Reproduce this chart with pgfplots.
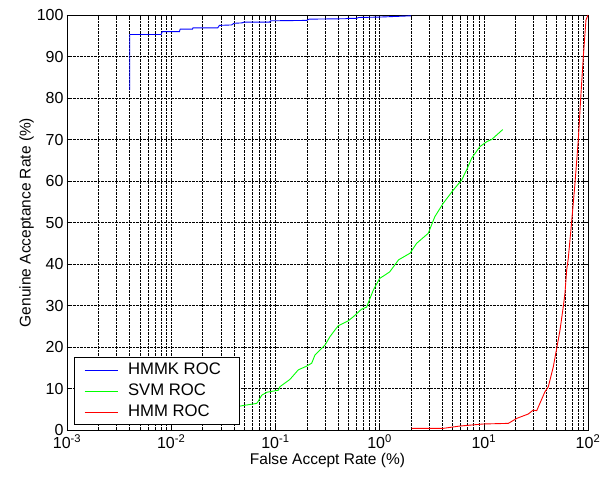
\documentclass[border=0pt]{standalone}
\usepackage{pgfplots}
\pgfplotsset{compat=1.18}
\usepackage{fontspec}
\setmainfont{Liberation Sans}

\begin{document}
\begin{tikzpicture}
\begin{axis}[
    anchor=south west, at={(0,0)},
    scale only axis, width=521pt, height=415pt,
    xmode=log, log basis x=10,
    xmin=0.001, xmax=100, ymin=0, ymax=100,
    xtick={0.001,0.01,0.1,1,10,100},
    xticklabels={10\textsuperscript{-3},10\textsuperscript{-2},10\textsuperscript{-1},10\textsuperscript{0},10\textsuperscript{1},10\textsuperscript{2}},
    minor xtick={0.002,0.003,0.004,0.005,0.006,0.007,0.008,0.009,
                 0.02,0.03,0.04,0.05,0.06,0.07,0.08,0.09,
                 0.2,0.3,0.4,0.5,0.6,0.7,0.8,0.9,
                 2,3,4,5,6,7,8,9,
                 20,30,40,50,60,70,80,90},
    ytick={0,10,...,100},
    /pgf/number format/assume math mode=true,
    ticklabel style={font=\fontsize{16}{18}\selectfont},
    xticklabel style={yshift=-1pt},
    label style={font=\fontsize{15.5}{18}\selectfont},
    xlabel={False Accept Rate (\%)},
    ylabel={Genuine Acceptance Rate (\%)},
    xlabel style={yshift=2pt},
    ylabel style={yshift=-4pt},
    tick align=inside,
    major tick length=5pt, minor tick length=3pt,
    tick style={black, line width=0.5pt},
    grid=both,
    major grid style={black, densely dotted, line width=0.5pt},
    minor grid style={black, densely dotted, line width=0.5pt},
    axis line style={line width=0.8pt},
    legend cell align=left,
    legend style={at={(0.013,0.012)}, anchor=south west, draw=black, line width=0.8pt,
        font=\fontsize{16.7}{18}\selectfont, fill=white,
        inner xsep=1pt, inner ysep=2pt, row sep=0pt,
        nodes={text height=11.5pt, text depth=3.5pt, inner ysep=3pt}},
    legend image code/.code={\path (0pt,0pt) (50pt,0pt);
        \draw[#1, line width=1.2pt] (9pt,0pt) -- (42pt,0pt);},
]
\addplot[color=blue, line width=0.9pt] coordinates {
(0.004,81.9) (0.004,95.3) (0.008,95.3) (0.0082,96.0) (0.012,96.0) (0.0122,96.6)
(0.016,96.6) (0.0162,96.9) (0.028,96.9) (0.029,97.5) (0.038,97.6) (0.04,98.0)
(0.048,98.1) (0.05,98.3) (0.088,98.3) (0.09,98.6) (0.2,98.7) (0.21,99.0)
(0.47,99.1) (0.5,99.2) (0.6,99.2) (0.63,99.4) (1.0,99.5) (2.0,99.8)
};
\addlegendentry{\makebox[108pt][l]{HMMK ROC}}
\addplot[color=green, line width=0.9pt] coordinates {
(0.035,5.2) (0.049,5.9) (0.066,6.4) (0.068,6.8) (0.074,8.4) (0.083,9.1)
(0.107,9.6) (0.11,10.4) (0.138,12.2) (0.166,14.5) (0.2,15.4) (0.223,16.1)
(0.24,18.1) (0.268,19.3) (0.30,20.5) (0.334,22.5) (0.40,25.1) (0.50,26.3)
(0.56,27.3) (0.67,29.1) (0.75,29.6) (0.87,33.7) (1.0,36.5) (1.25,38.1)
(1.52,41.0) (1.96,42.6) (2.27,45.0) (2.93,47.4) (3.39,51.4) (4.07,54.6)
(5.09,57.8) (6.12,60.2) (6.85,62.7) (7.65,65.5) (9.19,68.3) (10.7,69.5)
(11.9,70.0) (15.2,72.4)
};
\addlegendentry{SVM ROC}
\addplot[color=red, line width=0.9pt] coordinates {
(2.03,0.4) (4.08,0.4) (5.9,0.96) (9.9,1.45) (17.2,1.6) (20.7,2.8)
(26.7,3.85) (29.8,4.8) (32.2,4.65) (38.6,9.2) (41.6,10.4) (46.5,15.3)
(50.1,19.7) (53.9,24.1) (57.9,29.7) (60.1,32.9) (62.4,38.5) (64.7,41.4)
(69.7,50.2) (75,59.4) (80.7,69.9) (85.1,79.9) (90.2,90) (95.6,98.8) (100,100)
};
\addlegendentry{HMM ROC}
\end{axis}
\pgfresetboundingbox
\path[use as bounding box] (-67pt,-61pt) rectangle (537pt,430pt);
\end{tikzpicture}
\end{document}
